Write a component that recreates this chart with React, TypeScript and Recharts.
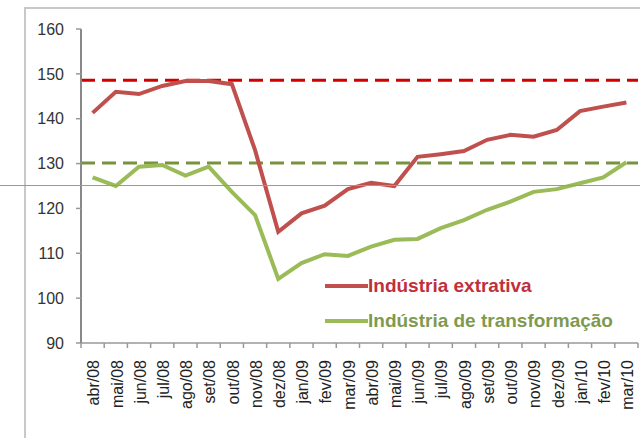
import React from "react";
import { LineChart, Line, XAxis, YAxis, ReferenceLine } from "recharts";

const categories = ["abr/08","mai/08","jun/08","jul/08","ago/08","set/08","out/08","nov/08","dez/08","jan/09","fev/09","mar/09","abr/09","mai/09","jun/09","jul/09","ago/09","set/09","out/09","nov/09","dez/09","jan/10","fev/10","mar/10"];
const extrativa = [141.3,146.0,145.5,147.3,148.4,148.4,147.7,133.0,114.8,118.9,120.6,124.3,125.7,125.0,131.5,132.1,132.8,135.3,136.4,136.0,137.5,141.7,142.7,143.6];
const transformacao = [126.9,125.0,129.3,129.7,127.3,129.3,123.7,118.5,104.3,107.8,109.8,109.4,111.5,113.0,113.2,115.6,117.4,119.7,121.5,123.7,124.3,125.6,126.9,130.3];
const yTicks = [90,100,110,120,130,140,150,160];
const refExtrativa = 148.6;
const refTransformacao = 130.1;
const seriesNames = ["Indústria extrativa", "Indústria de transformação"];

const data = categories.map((c, i) => ({ cat: c, ext: extrativa[i], tra: transformacao[i] }));

const W = 640, H = 438, YW = 81, RIGHT = 2, TOP = 29, XH = 95;
const band = (W - YW - RIGHT) / categories.length;
const AXIS_Y = H - XH;

const XTick = (props: any) => {
  const { x, payload, index } = props;
  const last = index === categories.length - 1;
  return (
    <g>
      <line x1={x - band / 2} y1={AXIS_Y} x2={x - band / 2} y2={AXIS_Y + 5} stroke="#999" strokeWidth={1.5} />
      {last && <line x1={x + band / 2} y1={AXIS_Y} x2={x + band / 2} y2={AXIS_Y + 5} stroke="#999" strokeWidth={1.5} />}
      <text transform={`translate(${x},${AXIS_Y + 17}) rotate(-90)`} textAnchor="end" dy="0.42em" fontSize={16} fill="#222" fontFamily="Liberation Sans, Arial, sans-serif">
        {payload.value}
      </text>
    </g>
  );
};

const LegendBox = () => (
  <div style={{ position: "absolute", left: 325, top: 268, fontFamily: "Liberation Sans, Arial, sans-serif", fontWeight: 700, fontSize: 19, lineHeight: "35px" }}>
    {[{ c: "#c0504d", t: "#c0303c" }, { c: "#9bbb59", t: "#7f9a4e" }].map((s, i) => (
      <div key={i} style={{ display: "flex", alignItems: "center", height: 35 }}>
        <svg width={43} height={10}><line x1={0} y1={5} x2={43} y2={5} stroke={s.c} strokeWidth={4} /></svg>
        <span style={{ color: s.t, whiteSpace: "nowrap" }}>{seriesNames[i]}</span>
      </div>
    ))}
  </div>
);

export default function App() {
  return (
    <div style={{ position: "absolute", left: 0, top: 0, width: W, height: H, overflow: "hidden", background: "#fff" }}>
      <div style={{ position: "absolute", left: 24, top: 7, width: 700, height: 500, borderLeft: "2px solid #c8c8c8", borderTop: "2px solid #c8c8c8" }} />
      <div style={{ position: "absolute", left: 0, top: 0 }}>
        <LineChart width={W} height={H} data={data} margin={{ top: TOP, right: RIGHT, left: 0, bottom: 0 }}>
          <XAxis dataKey="cat" height={XH} interval={0} padding={{ left: band / 2, right: band / 2 }} tickLine={false} axisLine={{ stroke: "#999", strokeWidth: 1.5 }} tick={<XTick />} />
          <YAxis width={YW} domain={[90, 160]} ticks={yTicks} tickSize={5} tickMargin={12} axisLine={{ stroke: "#888", strokeWidth: 2 }} tickLine={{ stroke: "#999", strokeWidth: 1.5 }} tick={{ fontSize: 16, fill: "#333", fontFamily: "Liberation Sans, Arial, sans-serif" }} />
          <ReferenceLine y={refExtrativa} stroke="#d00000" strokeWidth={3} strokeDasharray="14 7" />
          <ReferenceLine y={refTransformacao} stroke="#77933c" strokeWidth={3} strokeDasharray="14 7" />
          <Line dataKey="ext" name={seriesNames[0]} stroke="#c0504d" strokeWidth={4} dot={false} isAnimationActive={false} />
          <Line dataKey="tra" name={seriesNames[1]} stroke="#9bbb59" strokeWidth={4} dot={false} isAnimationActive={false} />
        </LineChart>
      </div>
      <LegendBox />
      <div style={{ position: "absolute", left: 0, top: 185, width: W, height: 1, background: "#6aa6d0" }} />
    </div>
  );
}
